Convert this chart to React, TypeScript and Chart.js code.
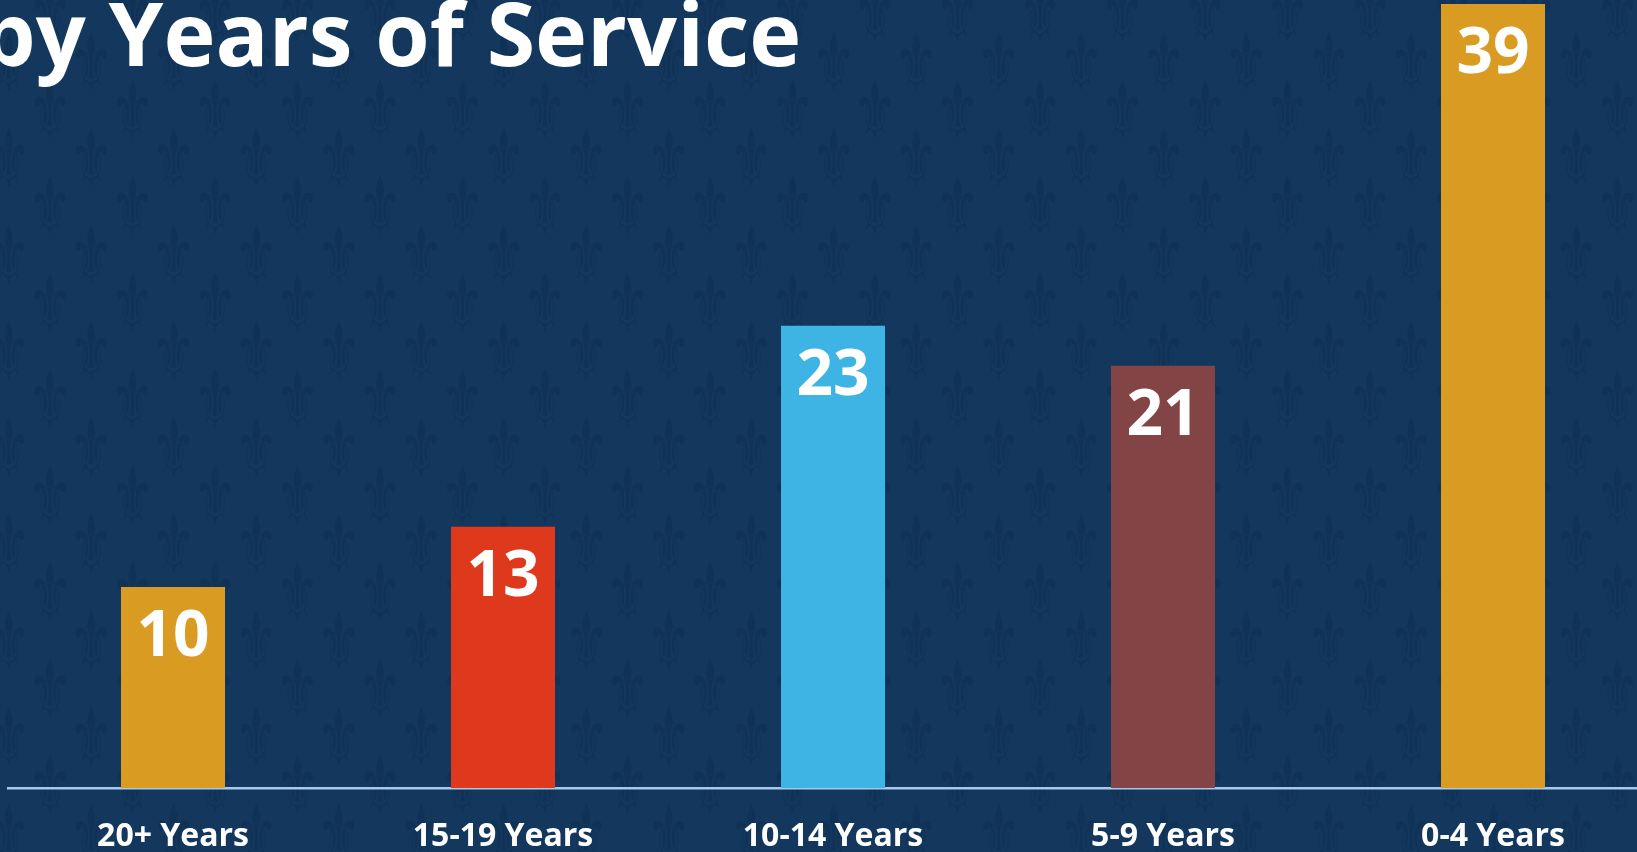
import React, { useEffect, useRef } from "react";
import { Chart, registerables } from "chart.js";

Chart.register(...registerables);

const categories = ["20+ Years", "15-19 Years", "10-14 Years", "5-9 Years", "0-4 Years"];
const counts = [10, 13, 23, 21, 39];
const barColors = ["#D99B22", "#DE391C", "#3DB4E4", "#834446", "#D99B22"];
const titleText = "by Years of Service";

const BG = "#14385D";
const FONT = "'Open Sans', 'Noto Sans', sans-serif";

const patternPlugin = {
  id: "fleurPattern",
  beforeDraw(chart: any) {
    const ctx = chart.ctx;
    ctx.save();
    ctx.fillStyle = BG;
    ctx.fillRect(0, 0, chart.width, chart.height);
    ctx.font = "80px 'DejaVu Sans'";
    ctx.textAlign = "center";
    ctx.textBaseline = "middle";
    ctx.fillStyle = "rgba(6,36,72,0.32)";
    const sx = 0.6;
    ctx.scale(sx, 1);
    const dx = 82.5;
    const dy = 48.25;
    for (let i = -2; i < 22; i++) {
      const y = 20.5 + dy * i;
      const off = Math.abs(i) % 2 === 0 ? 50 : 8.75;
      for (let x = off - dx; x < chart.width + dx; x += dx) {
        ctx.fillText("\u269C", x / sx, y);
      }
    }
    ctx.restore();
  },
};

const valueLabelPlugin = {
  id: "valueLabels",
  afterDatasetsDraw(chart: any) {
    const ctx = chart.ctx;
    const meta = chart.getDatasetMeta(0);
    const data = chart.data.datasets[0].data;
    ctx.save();
    ctx.font = `bold 64px ${FONT}`;
    ctx.fillStyle = "#FFFFFF";
    ctx.textAlign = "center";
    ctx.textBaseline = "alphabetic";
    meta.data.forEach((bar: any, i: number) => {
      ctx.fillText(String(data[i]), bar.x, bar.y + 69);
    });
    ctx.restore();
  },
};

export default function App() {
  const canvasRef = useRef<HTMLCanvasElement | null>(null);

  useEffect(() => {
    if (!canvasRef.current) return;
    const chart = new Chart(canvasRef.current, {
      type: "bar",
      data: {
        labels: categories,
        datasets: [
          {
            data: counts,
            backgroundColor: barColors,
            borderWidth: 0,
            barPercentage: 104 / 330,
            categoryPercentage: 1,
          },
        ],
      },
      options: {
        responsive: false,
        animation: false,
        devicePixelRatio: 1,
        layout: { padding: { left: 8, right: 0, top: 0, bottom: 0 } },
        plugins: {
          legend: { display: false },
          tooltip: { enabled: false },
          title: { display: false },
        },
        scales: {
          x: {
            grid: { display: false, drawTicks: false },
            border: { display: true, color: "#A6C8EA", width: 2.5 },
            ticks: {
              color: "#FFFFFF",
              font: { family: FONT, size: 32, weight: "bold" },
              padding: 30,
              maxRotation: 0,
              autoSkip: false,
            },
            afterFit(scale: any) {
              scale.height = 64;
            },
          },
          y: { display: false, min: 0, max: 39.2 },
        },
      },
      plugins: [patternPlugin, valueLabelPlugin],
    } as any);
    return () => chart.destroy();
  }, []);

  return (
    <div
      style={{
        position: "fixed",
        left: 0,
        top: 0,
        width: 1637,
        height: 852,
        overflow: "hidden",
        background: BG,
      }}
    >
      <canvas
        ref={canvasRef}
        width={1658}
        height={852}
        style={{ position: "absolute", left: 0, top: 0, width: 1658, height: 852, display: "block" }}
      />
      <div
        style={{
          position: "absolute",
          left: -20,
          top: -12,
          fontFamily: FONT,
          fontWeight: 700,
          fontSize: 88,
          lineHeight: 1,
          color: "#FFFFFF",
          whiteSpace: "nowrap",
        }}
      >
        {titleText}
      </div>
    </div>
  );
}
